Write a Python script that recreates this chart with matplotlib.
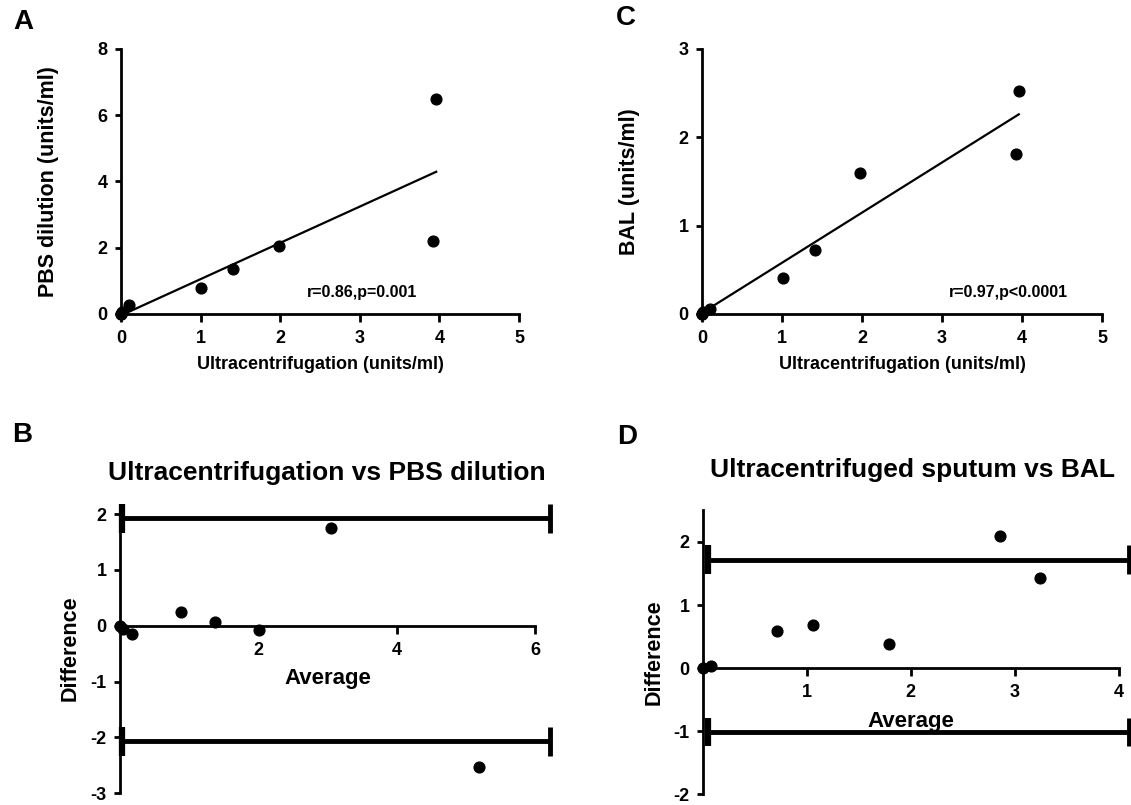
import numpy as np
import matplotlib
matplotlib.use("Agg")
import matplotlib.pyplot as plt

plt.rcParams['font.family'] = ['Liberation Sans', 'DejaVu Sans']
plt.rcParams['font.weight'] = 'bold'
plt.rcParams['axes.unicode_minus'] = False

# Panel A / C: ultracentrifugation vs PBS dilution / BAL (units/ml)
uc = [0, 0, 0.015, 0.1, 1.01, 1.41, 1.98, 3.92, 3.96]
pbs = [0, 0, 0.065, 0.27, 0.77, 1.35, 2.06, 2.2, 6.48]
bal = [0, 0, 0.02, 0.057, 0.41, 0.72, 1.6, 1.81, 2.53]
stat_a = "r=0.86,p=0.001"
stat_c = "r=0.97,p<0.0001"

# Panel B: Bland-Altman, ultracentrifugation vs PBS dilution
avg_b = [0, 0.04, 0.17, 0.88, 1.37, 2.01, 3.05, 5.19]
diff_b = [0, -0.05, -0.14, 0.25, 0.07, -0.08, 1.75, -2.53]
loa_b = [1.93, -2.07]

# Panel D: Bland-Altman, ultracentrifuged sputum vs BAL
avg_d = [0, 0.08, 0.71, 1.06, 1.79, 2.86, 3.24]
diff_d = [0, 0.04, 0.59, 0.69, 0.38, 2.10, 1.43]
loa_d = [1.72, -1.01]

W, H = 1131, 805
fig = plt.figure(figsize=(W / 100, H / 100), dpi=100)


def px_axes(x0, x1, ytop, ybot):
    return fig.add_axes([x0 / W, 1 - ybot / H, (x1 - x0) / W, (ybot - ytop) / H])


def style(ax):
    for s in ['top', 'right']:
        ax.spines[s].set_visible(False)
    for s in ['left', 'bottom']:
        ax.spines[s].set_linewidth(2)
    ax.tick_params(width=2, labelsize=13)
    ax.tick_params(axis='y', length=4.5, pad=5)
    ax.tick_params(axis='x', length=6, pad=5.5)
    for lab in ax.get_xticklabels() + ax.get_yticklabels():
        lab.set_fontweight('bold')


def ylab(ax, text, xfrac):
    ax.set_ylabel(text, fontsize=15.5, fontweight='bold', va='center')
    ax.yaxis.set_label_coords(xfrac, 0.5)


def scatter_panel(ax, x, y, ylim, yticks, ylabel, yl_x, stat, stat_xy):
    ax.set_xlim(0, 5)
    ax.set_ylim(*ylim)
    ax.set_xticks(range(6))
    ax.set_yticks(yticks)
    style(ax)
    ax.scatter(x, y, s=60, color='black', zorder=3, clip_on=False)
    k, b = np.polyfit(x, y, 1)
    xs = np.array([0, max(x)])
    ax.plot(xs, k * xs + b, color='black', lw=1.6)
    ax.set_xlabel("Ultracentrifugation (units/ml)", fontsize=13, fontweight='bold', va='center')
    ax.xaxis.set_label_coords(0.5, -0.189)
    ylab(ax, ylabel, yl_x)
    ax.text(stat_xy[0], stat_xy[1], stat, fontsize=11.5, fontweight='bold', va='center')


def ba_panel(ax, x, y, loa, xlim, ylim, xticks, yticks, x_end, cap_left, yl_x):
    ax.set_xlim(*xlim)
    ax.set_ylim(*ylim)
    ax.spines['bottom'].set_position(('data', 0))
    ax.spines['bottom'].set_bounds(0, xticks[-1])
    ax.set_xticks(xticks)
    ax.set_yticks(yticks)
    style(ax)
    h = (ylim[1] - ylim[0]) * 0.05
    ax.hlines(loa, cap_left, x_end, color='black', lw=3.5, clip_on=False)
    ax.vlines([cap_left] * len(loa), np.array(loa) - h, np.array(loa) + h, color='black', lw=4.5, clip_on=False)
    ax.vlines([x_end] * len(loa), np.array(loa) - h, np.array(loa) + h, color='black', lw=3.5, clip_on=False)
    ax.scatter(x, y, s=60, color='black', zorder=3, clip_on=False)
    ylab(ax, "Difference", yl_x)


ax_a = px_axes(121, 519, 49, 314)
scatter_panel(ax_a, uc, pbs, (0, 8), [0, 2, 4, 6, 8], "PBS dilution (units/ml)", -0.183,
              stat_a, (2.34, 0.66))

ax_c = px_axes(702, 1102, 49, 314)
scatter_panel(ax_c, uc, bal, (0, 3), [0, 1, 2, 3], "BAL (units/ml)", -0.18,
              stat_c, (3.09, 0.24))

ax_b = px_axes(120, 552.5, 503, 793.3)
ba_panel(ax_b, avg_b, diff_b, loa_b, (0, 6.25), (-3, 2.2), [2, 4, 6], [-3, -2, -1, 0, 1, 2],
         6.22, 0.03, -0.1156)
ax_b.spines['left'].set_bounds(-3, 2)
ax_b.text(3.0, -0.95, "Average", fontsize=16, fontweight='bold', ha='center', va='center')

ax_d = px_axes(702.7, 1131, 510.4, 794.3)
ba_panel(ax_d, avg_d, diff_d, loa_d, (0, 4.12), (-2, 2.5), [1, 2, 3, 4], [-2, -1, 0, 1, 2],
         4.1, 0.05, -0.1137)
ax_d.text(2.0, -0.84, "Average", fontsize=16, fontweight='bold', ha='center', va='center')

fig.text(327 / W, 1 - 473 / H, "Ultracentrifugation vs PBS dilution", fontsize=19,
         fontweight='bold', ha='center', va='center')
fig.text(912 / W, 1 - 470 / H, "Ultracentrifuged sputum vs BAL", fontsize=19,
         fontweight='bold', ha='center', va='center')

for lab, x, y in [("A", 23, 22), ("C", 626, 18), ("B", 22, 435), ("D", 627, 437)]:
    fig.text(x / W, 1 - y / H, lab, fontsize=20, fontweight='bold', ha='center', va='center')

fig.savefig("out.png", dpi=100)
